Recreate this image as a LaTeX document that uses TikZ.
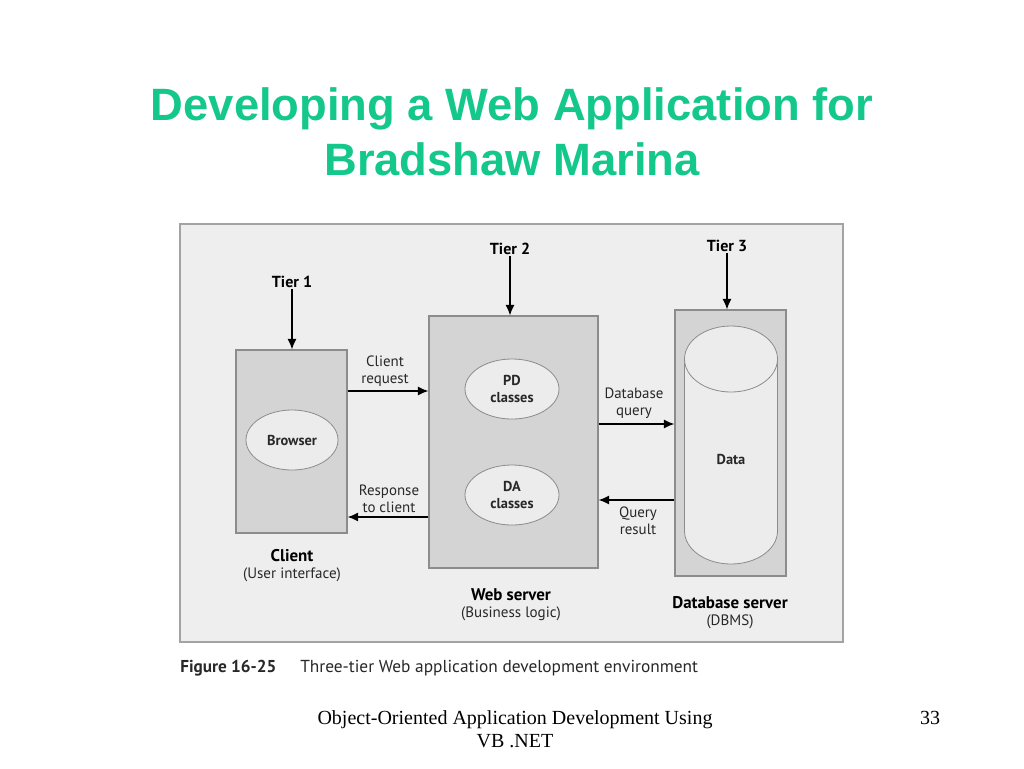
\documentclass[tikz,border=0pt]{standalone}
\usepackage{fontspec}
\setmainfont{Liberation Serif}
\newfontfamily\titlefont{Liberation Sans}
\newfontfamily\figfont{PT Sans}
\usetikzlibrary{arrows.meta,shapes.geometric}
\definecolor{titlegreen}{RGB}{20,200,140}
\definecolor{panelbg}{RGB}{238,238,238}
\definecolor{boxfill}{RGB}{212,212,212}
\definecolor{ellfill}{RGB}{236,236,236}
\definecolor{edgegray}{RGB}{140,140,140}
\definecolor{txtgray}{RGB}{40,40,40}
\tikzset{
  box/.style={draw=edgegray, line width=0.8pt, fill=boxfill, inner sep=0pt},
  ell/.style={ellipse, draw=edgegray, line width=0.6pt, fill=ellfill, inner sep=0pt, align=center,
    font=\figfont\bfseries\fontsize{10.8}{12.5}\selectfont, text=txtgray},
  lbl/.style={align=center, font=\figfont\fontsize{11.2}{12.5}\selectfont, text=txtgray, inner sep=1pt},
  tier/.style={font=\figfont\bfseries\fontsize{12}{13}\selectfont, text=black, inner sep=1pt},
  figcap/.style={align=center, font=\figfont\fontsize{11.3}{12.75}\selectfont, text=txtgray, inner sep=0pt},
  arr/.style={-{Latex[length=8pt,width=7pt]}, line width=1.3pt, black},
}
\begin{document}
\begin{tikzpicture}[x=0.75pt,y=-0.75pt]
\useasboundingbox (0,0) rectangle (1024,768);
\fill[white] (0,0) rectangle (1024,768);
% title
\node[font=\titlefont\bfseries\fontsize{34}{41.25}\selectfont, text=titlegreen, align=center] (title) at (512,132)
  {Developing a Web Application for\\Bradshaw Marina};
% panel
\node[draw=edgegray!80, line width=0.8pt, fill=panelbg, minimum width=497.25pt, minimum height=313.5pt, inner sep=0pt] (panel) at (511.5,433) {};
% boxes
\node[box, minimum width=83.25pt, minimum height=137.25pt] (client) at (291.5,441.5) {};
\node[box, minimum width=126.75pt, minimum height=189pt] (web) at (513.5,442) {};
\node[box, minimum width=83.25pt, minimum height=199.5pt] (db) at (730.5,443) {};
% ellipses
\node[ell, minimum width=69pt, minimum height=45pt] (browser) at (292,440) {Browser};
\node[ell, minimum width=70.5pt, minimum height=45pt] (pd) at (512,389) {PD\\classes};
\node[ell, minimum width=70.5pt, minimum height=45pt] (da) at (512,495) {DA\\classes};
% cylinder
\draw[draw=edgegray, line width=0.6pt, fill=ellfill] (684.5,359) -- (684.5,531)
  arc[start angle=180, end angle=0, x radius=46.5, y radius=33] -- (777.5,359) -- cycle;
\draw[draw=edgegray, line width=0.6pt, fill=ellfill] (731,359) ellipse [x radius=46.5, y radius=33];
\node[ell, draw=none, fill=none] (data) at (731,459) {Data};
% tier labels
\node[tier] (t1) at (292,282) {Tier 1};
\node[tier] (t2) at (510,249) {Tier 2};
\node[tier] (t3) at (727,246) {Tier 3};
\draw[arr] (t1.south) -- (client.north -| t1.south);
\draw[arr] (t2.south) -- (web.north -| t2.south);
\draw[arr] (t3.south) -- (db.north -| t3.south);
% horizontal connectors
\coordinate (yreq) at (0,391);
\coordinate (yresp) at (0,517);
\coordinate (yq) at (0,424);
\coordinate (yres) at (0,500);
\draw[arr] (client.east |- yreq) -- (web.west |- yreq);
\draw[arr] (web.west |- yresp) -- (client.east |- yresp);
\draw[arr] (web.east |- yq) -- (db.west |- yq);
\draw[arr] (db.west |- yres) -- (web.east |- yres);
\node[lbl] (lreq) at (385,371) {Client\\request};
\node[lbl] (lresp) at (389,499) {Response\\to client};
\node[lbl] (lq) at (634,403) {Database\\query};
\node[lbl] (lres) at (638,521) {Query\\result};
% captions
\node[figcap] (cclient) at (292,566) {{\figfont\bfseries\fontsize{12.7}{14}\selectfont\color{black}Client}\\(User interface)};
\node[figcap] (cweb) at (511,605) {{\figfont\bfseries\fontsize{12.7}{14}\selectfont\color{black}Web server}\\(Business logic)};
\node[figcap] (cdb) at (730,613) {{\figfont\bfseries\fontsize{12.7}{14}\selectfont\color{black}Database server}\\(DBMS)};
% figure caption
\node[anchor=west, font=\figfont\bfseries\fontsize{12.9}{14}\selectfont, text=txtgray, inner sep=0pt] (fignum) at (180,668) {Figure 16-25};
\node[anchor=west, font=\figfont\fontsize{13}{14}\selectfont, text=txtgray, inner sep=0pt] (figtxt) at (300,668) {Three-tier Web application development environment};
% footer
\node[align=center, font=\fontsize{15}{17.25}\selectfont] (foot) at (515,729) {Object-Oriented Application Development Using\\VB .NET};
\node[font=\fontsize{15}{16}\selectfont] (page) at (930,718) {33};
\end{tikzpicture}
\end{document}
